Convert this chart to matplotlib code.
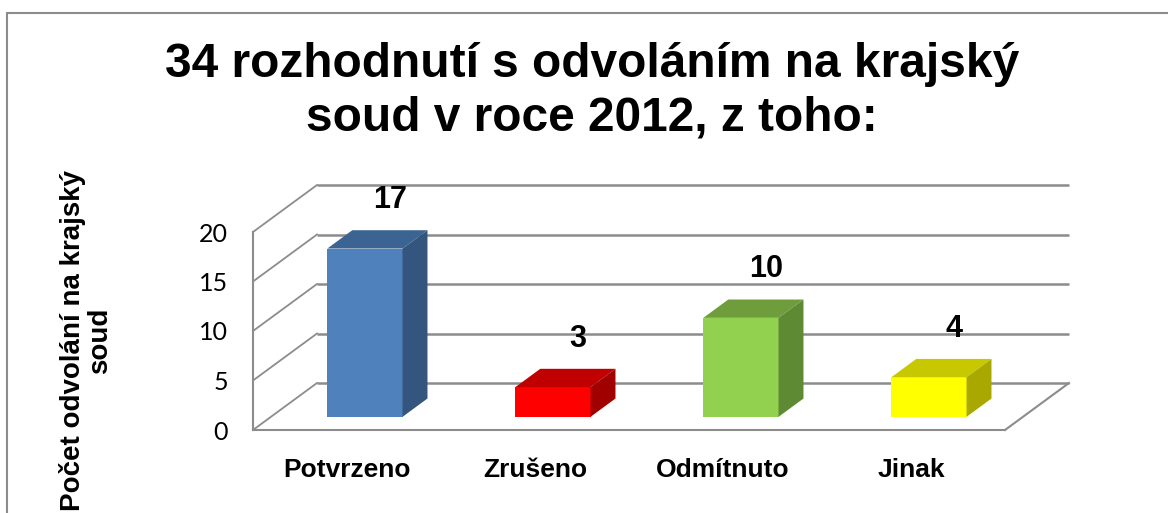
import matplotlib
matplotlib.use("Agg")
import matplotlib.pyplot as plt
from matplotlib.patches import Polygon, Rectangle


# ── Data ───────────────────────────────────────────────────────────────────────

categories = ["Potvrzeno", "Zrušeno", "Odmítnuto", "Jinak"]
counts     = [17, 3, 10, 4]
y_ticks    = [0, 5, 10, 15, 20]

title  = "34 rozhodnutí s odvoláním na krajský\nsoud v roce 2012, z toho:"
ylabel = "Počet odvolání na krajský\nsoud"


# ── Style ──────────────────────────────────────────────────────────────────────

FRONT = ["#4F81BD", "#FF0000", "#92D050", "#FFFF00"]
TOP   = ["#3C6493", "#C00000", "#6F9D3C", "#C8C800"]
SIDE  = ["#34557E", "#A00000", "#5E8A33", "#A8A800"]
GRID  = "#8C8C8C"

W, H, DPI = 1168, 513, 100

# front face of the plot box, in pixels
BOX_LEFT, BOX_RIGHT = 253, 1005
BOX_ZERO, BOX_TOP   = 430, 232

# 3D depth of the box (px) and the slice of depth a bar occupies
DEPTH_PX   = (64, 47)
BAR_DEPTH  = (0.28, 0.67)
BAR_WIDTH  = 0.4

ARIAL = "Liberation Sans"


# ── Figure ─────────────────────────────────────────────────────────────────────

fig = plt.figure(figsize=(W / DPI, H / DPI), dpi=DPI)
ax = fig.add_axes([BOX_LEFT / W, (H - BOX_ZERO) / H,
                   (BOX_RIGHT - BOX_LEFT) / W, (BOX_ZERO - BOX_TOP) / H])

n = len(categories)
ax.set_xlim(0, n)
ax.set_ylim(0, max(y_ticks))

# depth offsets converted to data units
DX = DEPTH_PX[0] / (BOX_RIGHT - BOX_LEFT) * n
DY = DEPTH_PX[1] / (BOX_ZERO - BOX_TOP) * max(y_ticks)

# back wall + left wall gridlines
for t in y_ticks:
    ax.plot([DX, n + DX], [t + DY, t + DY], color=GRID, lw=1.8,
            clip_on=False, zorder=1, solid_capstyle="butt")
    ax.plot([0, DX], [t, t + DY], color=GRID, lw=1.3, clip_on=False, zorder=1)

# floor right edge
ax.plot([n, n + DX], [0, DY], color=GRID, lw=1.5, clip_on=False, zorder=1)

# ── Bars ───────────────────────────────────────────────────────────────────────

d0, d1 = BAR_DEPTH
ddx, ddy = (d1 - d0) * DX, (d1 - d0) * DY

for i, v in enumerate(counts):
    xl = i + 0.5 - BAR_WIDTH / 2 + d0 * DX
    xr = i + 0.5 + BAR_WIDTH / 2 + d0 * DX
    yb = d0 * DY
    yt = v + d0 * DY

    front = Polygon([(xl, yb), (xr, yb), (xr, yt), (xl, yt)], closed=True,
                    fc=FRONT[i], ec="none", zorder=3, clip_on=False)
    top = Polygon([(xl, yt), (xr, yt), (xr + ddx, yt + ddy), (xl + ddx, yt + ddy)],
                  closed=True, fc=TOP[i], ec="none", zorder=3, clip_on=False)
    side = Polygon([(xr, yb), (xr + ddx, yb + ddy), (xr + ddx, yt + ddy), (xr, yt)],
                   closed=True, fc=SIDE[i], ec="none", zorder=3, clip_on=False)
    for p in (front, top, side):
        ax.add_patch(p)

    ax.annotate(str(v), xy=(i + 0.5 + d1 * DX, yt + ddy), xytext=(0, 11),
                textcoords="offset points", ha="center", va="bottom",
                fontsize=22, fontweight="bold", family=ARIAL, zorder=4,
                annotation_clip=False)

# ── Axes cosmetics ─────────────────────────────────────────────────────────────

for side_name in ("top", "right"):
    ax.spines[side_name].set_visible(False)
for side_name in ("left", "bottom"):
    ax.spines[side_name].set_color(GRID)
    ax.spines[side_name].set_linewidth(1.5)

ax.set_facecolor("none")
ax.set_yticks(y_ticks)
ax.set_yticklabels([str(t) for t in y_ticks], family="Lato", fontsize=18)
ax.set_xticks([i + 0.5 for i in range(n)])
ax.set_xticklabels(categories, family=ARIAL, fontsize=19, fontweight="bold")
ax.tick_params(axis="y", length=0, pad=18)
ax.tick_params(axis="x", length=0, pad=20)

ax.set_ylabel(ylabel, family=ARIAL, fontsize=20, fontweight="bold", linespacing=1.05)
ax.yaxis.set_label_coords((113 - BOX_LEFT) / (BOX_RIGHT - BOX_LEFT), 0.45)

fig.text(592 / W, 1 - 42 / H, title, ha="center", va="top", family=ARIAL,
         fontsize=34.5, fontweight="bold", linespacing=1.25)

# outer chart border (right and bottom edges fall outside the picture)
fig.add_artist(Rectangle((7 / W, -0.2), 1.2, 1.2 - 13 / H, transform=fig.transFigure,
                         fill=False, ec="#8C8C8C", lw=1.5))

fig.savefig("out.png", dpi=DPI)
